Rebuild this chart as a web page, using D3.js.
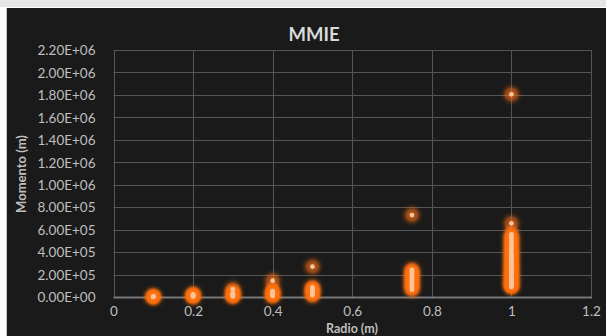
<!DOCTYPE html>
<html><head><meta charset="utf-8">
<script src="https://cdn.jsdelivr.net/npm/d3@7"></script>
<style>body{margin:0;background:#fff;}svg{display:block;}</style>
</head><body><svg id="c" width="606" height="336"></svg>
<script>
const title = "MMIE";
const xLabel = "Radio (m)";
const yLabel = "Momento (m)";
const xTicks = [0, 0.2, 0.4, 0.6, 0.8, 1, 1.2];
const yTicks = [0, 2e5, 4e5, 6e5, 8e5, 1e6, 1.2e6, 1.4e6, 1.6e6, 1.8e6, 2e6, 2.2e6];
// Radii (x) and moment values (y) for each radius
const radii = [0.1, 0.2, 0.3, 0.4, 0.5, 0.75, 1.0];
const m010 = [1000, 2000, 3000, 4000, 5000];
const m020 = [3000, 6000, 10000, 15000, 20000, 25000];
const m030 = [5000, 10000, 15000, 20000, 25000, 30000, 35000, 70000];
const m040 = [8000, 15000, 22000, 30000, 38000, 45000, 52000, 145000];
const m050 = [15000, 25000, 35000, 45000, 55000, 65000, 75000, 85000, 270000];
const m075 = [65000, 80000, 95000, 110000, 125000, 140000, 155000, 170000, 185000, 200000, 215000, 230000, 242000, 730000];
const m100 = [90000, 95000, 100000, 105000, 110000, 115000, 120000, 125000, 130000, 140000, 150000, 160000, 170000, 180000, 190000, 200000, 210000, 220000, 230000, 240000, 250000, 265000, 280000, 295000, 310000, 325000, 340000, 355000, 370000, 385000, 400000, 420000, 440000, 460000, 480000, 500000, 520000, 540000, 558000, 656000, 1805000];
const moments = [m010, m020, m030, m040, m050, m075, m100];

const points = [];
radii.forEach((r, i) => moments[i].forEach(v => points.push({x: r, y: v})));

const svg = d3.select("#c");
const W = 606, H = 336;
svg.append("rect").attr("x", 0).attr("y", 0).attr("width", W).attr("height", 7).attr("fill", "#e6e6e6");
svg.append("rect").attr("x", 7).attr("y", 8).attr("width", W - 7).attr("height", H - 8).attr("fill", "#1a1a1a");
svg.append("line").attr("x1", 6.5).attr("x2", 6.5).attr("y1", 8).attr("y2", H).attr("stroke", "#c8c8c8");

const defs = svg.append("defs");
const f = defs.append("filter").attr("id", "glow").attr("x", "-50%").attr("y", "-50%").attr("width", "200%").attr("height", "200%");
f.append("feGaussianBlur").attr("stdDeviation", 2.3).attr("result", "b");
f.append("feComponentTransfer").attr("in", "b").append("feFuncA").attr("type", "table").attr("tableValues", "0 0.2 0.55 0.85 1 1");

const x = d3.scaleLinear().domain([0, 1.2]).range([113.5, 591]);
const y = d3.scaleLinear().domain([0, 2.2e6]).range([297, 50]);
const font = "Lato, 'Open Sans', sans-serif";

// grid
const g = svg.append("g");
g.selectAll(".hg").data(yTicks.slice(1)).join("line")
  .attr("x1", x(0)).attr("x2", x(1.2))
  .attr("y1", d => Math.round(y(d)) + 0.5).attr("y2", d => Math.round(y(d)) + 0.5)
  .attr("stroke", "#555").attr("stroke-width", 1);
g.selectAll(".vg").data(xTicks).join("line")
  .attr("x1", d => Math.round(x(d)) + 0.5).attr("x2", d => Math.round(x(d)) + 0.5)
  .attr("y1", y(2.2e6)).attr("y2", y(0))
  .attr("stroke", "#555").attr("stroke-width", 1);
g.append("line").attr("x1", x(0)).attr("x2", x(1.2) + 1).attr("y1", y(0) + 0.5).attr("y2", y(0) + 0.5)
  .attr("stroke", "#777").attr("stroke-width", 2);

// axes labels via d3 axes
const xAxis = svg.append("g").attr("transform", `translate(0,${y(0) + 6})`)
  .call(d3.axisBottom(x).tickValues(xTicks).tickSize(0).tickFormat(d3.format("")));
xAxis.select(".domain").remove();
xAxis.selectAll("text").attr("fill", "#bfbfbf").attr("font-size", 13.5).attr("font-family", font);

const yFmt = d => { const s = d.toExponential(2).toUpperCase(); return s.replace(/E([+-])(\d)$/, "E$10$2"); };
const yAxis = svg.append("g").attr("transform", `translate(${x(0) - 15},0)`)
  .call(d3.axisLeft(y).tickValues(yTicks).tickSize(0).tickFormat(yFmt));
yAxis.select(".domain").remove();
yAxis.selectAll("text").attr("fill", "#bfbfbf").attr("font-size", 13.5).attr("font-family", font).attr("dy", "0.35em");

// titles
svg.append("text").attr("x", 314).attr("y", 41).attr("text-anchor", "middle")
  .attr("fill", "#d9d9d9").attr("font-size", 18.5).attr("font-weight", "bold").attr("font-family", font).text(title);
svg.append("text").attr("x", 352).attr("y", 333).attr("text-anchor", "middle")
  .attr("fill", "#bfbfbf").attr("font-size", 12.5).attr("font-weight", "bold").attr("font-family", font).text(xLabel);
svg.append("text").attr("transform", "translate(26,174) rotate(-90)").attr("text-anchor", "middle")
  .attr("fill", "#bfbfbf").attr("font-size", 13).attr("font-weight", "bold").attr("font-family", font).text(yLabel);

// points with glow
svg.append("g").attr("filter", "url(#glow)").selectAll("circle").data(points).join("circle")
  .attr("cx", d => x(d.x)).attr("cy", d => y(d.y)).attr("r", 8)
  .attr("fill", "#ff7010").attr("fill-opacity", 0.45);
svg.append("g").selectAll("circle").data(points).join("circle")
  .attr("cx", d => x(d.x)).attr("cy", d => y(d.y)).attr("r", 2.4)
  .attr("fill", "#f9c39b");
</script></body></html>
